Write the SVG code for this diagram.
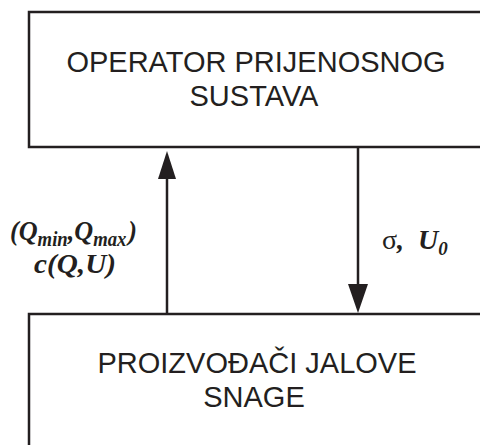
<svg xmlns="http://www.w3.org/2000/svg" width="480" height="445" viewBox="0 0 480 445">
<style>
.box{fill:#fff;stroke:#231f20;stroke-width:2.5}
.t{font-family:"Liberation Sans",Arial,sans-serif;font-size:29px;fill:#231f20;text-anchor:middle}
.lbl{font-family:"Liberation Serif","Times New Roman",serif;font-size:28px;font-weight:bold;font-style:italic;fill:#231f20}
.ln{stroke:#231f20;stroke-width:2.5;fill:none}
.ah{fill:#231f20}
</style>
<rect width="480" height="445" fill="#fff"/>
<g id="operator">
<rect class="box" x="29" y="12" width="470" height="135"/>
<text class="t" x="256" y="72">OPERATOR PRIJENOSNOG</text>
<text class="t" x="254" y="106">SUSTAVA</text>
</g>
<g id="proizvodaci">
<rect class="box" x="29" y="314" width="470" height="150"/>
<text class="t" x="257" y="373">PROIZVOĐAČI JALOVE</text>
<text class="t" x="254" y="407">SNAGE</text>
</g>
<g id="connectors">
<line class="ln" x1="167" y1="314" x2="167" y2="176"/>
<polygon class="ah" points="167,151 158,179 176,179"/>
<line class="ln" x1="358" y1="147" x2="358" y2="286"/>
<polygon class="ah" points="348,284 368,284 358,313"/>
</g>
<g id="labels">
<text class="lbl" x="10" y="240" textLength="127" lengthAdjust="spacingAndGlyphs">(Q<tspan font-size="20" dy="6">min</tspan><tspan dy="-6">,Q</tspan><tspan font-size="20" dy="6">max</tspan><tspan dx="2" dy="-6">)</tspan></text>
<text class="lbl" x="34" y="273" textLength="82" lengthAdjust="spacingAndGlyphs">c(Q,U)</text>
<text class="lbl" x="382" y="249" font-size="27"><tspan font-style="normal" font-weight="normal">σ</tspan>,<tspan dx="14">U</tspan><tspan font-size="19" dy="6">0</tspan></text>
</g>
</svg>
